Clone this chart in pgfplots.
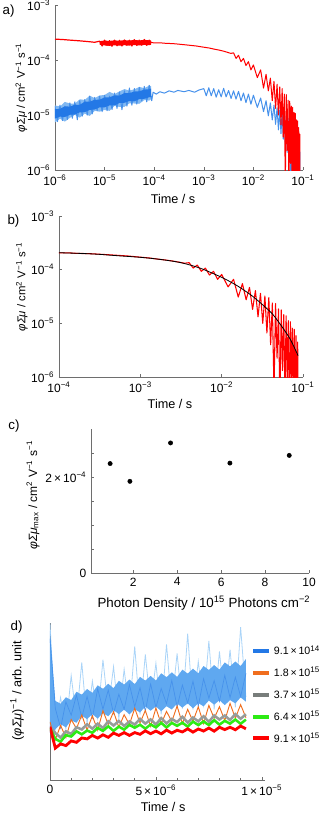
\documentclass[border=0pt]{standalone}
\usepackage{fontspec}
\setmainfont{Liberation Sans}
\usepackage{pgfplots}
\usepackage{pgfplotstable}
\pgfplotsset{compat=1.18}
\pgfplotsset{/pgf/number format/assume math mode=true}

\definecolor{myblue}{RGB}{35,120,230}
\definecolor{zigblue}{RGB}{70,145,235}
\definecolor{bandblue}{RGB}{130,185,242}
\definecolor{midblue}{RGB}{95,168,240}
\definecolor{lightblue}{RGB}{170,212,248}
\definecolor{myorange}{RGB}{240,110,30}
\definecolor{mygray}{RGB}{150,156,154}
\definecolor{mygreen}{RGB}{45,235,20}
\definecolor{axisgray}{RGB}{110,110,110}

\newcommand\fs{\fontsize{9}{10.8}\selectfont}

% panel a, red, 1e-6 .. 9e-5
\pgfplotstableread{
x y
1e-6 2.40e-4
1.5e-6 2.35e-4
2e-6 2.30e-4
3e-6 2.24e-4
4e-6 2.19e-4
5e-6 2.15e-4
6.3e-6 2.10e-4
7.94e-6 2.20e-4
8.91e-6 1.80e-4
1e-5 2.30e-4
1.12e-5 1.85e-4
1.26e-5 2.25e-4
1.41e-5 1.78e-4
1.58e-5 2.30e-4
1.78e-5 1.82e-4
2e-5 2.28e-4
2.24e-5 1.80e-4
2.51e-5 2.32e-4
2.82e-5 1.85e-4
3.16e-5 2.30e-4
3.55e-5 1.80e-4
3.98e-5 2.35e-4
4.47e-5 1.84e-4
5.01e-5 2.30e-4
5.62e-5 1.86e-4
6.31e-5 2.36e-4
7.08e-5 1.85e-4
7.94e-5 2.30e-4
8.7e-5 2.08e-4
}\redearly

% noise envelope of the red trace (upper edge, then lower edge back)
\pgfplotstableread{
x y
7.94e-6 2.20e-4
1e-5 2.26e-4
1.26e-5 2.22e-4
1.58e-5 2.28e-4
2e-5 2.24e-4
2.51e-5 2.30e-4
3.16e-5 2.26e-4
3.98e-5 2.32e-4
5.01e-5 2.27e-4
6.31e-5 2.33e-4
7.94e-5 2.28e-4
8.7e-5 2.25e-4
8.7e-5 1.90e-4
7.94e-5 1.86e-4
6.31e-5 1.88e-4
5.01e-5 1.84e-4
3.98e-5 1.87e-4
3.16e-5 1.83e-4
2.51e-5 1.86e-4
2e-5 1.82e-4
1.58e-5 1.85e-4
1.26e-5 1.81e-4
1e-5 1.84e-4
7.94e-6 1.90e-4
}\redband

% red decay, from 9e-5 (panels a and b)
\pgfplotstableread{
x y
8.7e-5 2.08e-4
1e-4 2.05e-4
1.3e-4 2.06e-4
1.6e-4 2.02e-4
2e-4 2.00e-4
2.5e-4 1.98e-4
3e-4 1.95e-4
4e-4 1.90e-4
5e-4 1.86e-4
7e-4 1.80e-4
1e-3 1.71e-4
1.3e-3 1.65e-4
1.6e-3 1.58e-4
2e-3 1.52e-4
2.5e-3 1.45e-4
3e-3 1.38e-4
3.5e-3 1.32e-4
3.98e-3 1.35e-4
4.47e-3 1.07e-4
5.01e-3 1.22e-4
5.62e-3 9.33e-5
6.31e-3 1.07e-4
7.08e-3 7.94e-5
7.94e-3 9.33e-5
8.91e-3 6.61e-5
0.010 8.13e-5
0.012 4.79e-5
0.014 6.61e-5
0.016 3.09e-5
0.018 5.50e-5
0.020 2.75e-5
0.022 4.68e-5
0.024 1.82e-5
0.026 4.07e-5
0.028 1.32e-5
0.030 3.63e-5
0.032 1.00e-5
0.034 3.24e-5
0.036 6.61e-6
0.038 3.02e-5
0.040 3.98e-6
0.042 2.40e-5
0.044 5.4e-7
0.046 2.34e-5
0.048 2.24e-6
0.050 1.86e-5
0.052 3.1e-7
0.054 1.78e-5
0.056 1.32e-6
0.058 1.45e-5
0.060 4.5e-7
0.062 1.38e-5
0.064 7.6e-7
0.066 1.12e-5
0.068 2.6e-7
0.070 1.07e-5
0.072 8.7e-7
0.074 8.13e-6
0.076 2.3e-7
0.078 7.76e-6
0.080 3.2e-7
0.082 5.89e-6
0.084 2.2e-7
0.086 4.47e-6
0.087 3.9e-7
}\redlate

% noise envelopes of the blue trace, 1e-6 .. 9e-5 (outer, core)
\pgfplotstableread{
x y
1e-6 1.49e-5
1.26e-6 1.43e-5
1.58e-6 1.73e-5
2e-6 1.62e-5
2.51e-6 1.61e-5
3.16e-6 1.93e-5
3.98e-6 1.88e-5
5.01e-6 2.25e-5
6.31e-6 2.02e-5
7.94e-6 2.27e-5
1e-5 2.31e-5
1.26e-5 2.63e-5
1.58e-5 2.40e-5
2e-5 2.69e-5
2.51e-5 2.96e-5
3.16e-5 2.78e-5
3.98e-5 2.93e-5
5.01e-5 3.25e-5
6.31e-5 3.07e-5
7.94e-5 3.41e-5
8.7e-5 3.34e-5
8.7e-5 1.95e-5
7.94e-5 1.83e-5
6.31e-5 1.87e-5
5.01e-5 1.60e-5
3.98e-5 1.62e-5
3.16e-5 1.63e-5
2.51e-5 1.41e-5
2e-5 1.40e-5
1.58e-5 1.47e-5
1.26e-5 1.19e-5
1e-5 1.24e-5
7.94e-6 1.15e-5
6.31e-6 1.19e-5
5.01e-6 9.62e-6
3.98e-6 1.06e-5
3.16e-6 8.98e-6
2.51e-6 1.01e-5
2e-6 8.88e-6
1.58e-6 7.59e-6
1.26e-6 8.58e-6
1e-6 7.35e-6
}\bandouter

\pgfplotstableread{
x y
1e-6 1.28e-5
1.26e-6 1.29e-5
1.58e-6 1.44e-5
2e-6 1.42e-5
2.51e-6 1.54e-5
3.16e-6 1.53e-5
3.98e-6 1.75e-5
5.01e-6 1.75e-5
6.31e-6 1.89e-5
7.94e-6 1.90e-5
1e-5 2.09e-5
1.26e-5 2.10e-5
1.58e-5 2.27e-5
2e-5 2.26e-5
2.51e-5 2.51e-5
3.16e-5 2.50e-5
3.98e-5 2.67e-5
5.01e-5 2.70e-5
6.31e-5 2.90e-5
7.94e-5 2.94e-5
8.7e-5 3.03e-5
8.7e-5 2.11e-5
7.94e-5 2.11e-5
6.31e-5 1.97e-5
5.01e-5 1.95e-5
3.98e-5 1.77e-5
3.16e-5 1.80e-5
2.51e-5 1.67e-5
2e-5 1.66e-5
1.58e-5 1.49e-5
1.26e-5 1.50e-5
1e-5 1.38e-5
7.94e-6 1.38e-5
6.31e-6 1.26e-5
5.01e-6 1.24e-5
3.98e-6 1.13e-5
3.16e-6 1.12e-5
2.51e-6 1.02e-5
2e-6 1.01e-5
1.58e-6 9.2e-6
1.26e-6 9.35e-6
1e-6 8.61e-6
}\bandcore

% panel a, blue trace
\pgfplotstableread{
x y
1e-6 1.45e-5
1.122e-6 7.59e-6
1.259e-6 1.51e-5
1.413e-6 7.94e-6
1.585e-6 1.45e-5
1.778e-6 8.32e-6
1.995e-6 1.66e-5
2.239e-6 8.71e-6
2.512e-6 1.74e-5
2.818e-6 8.2e-6
3.162e-6 1.82e-5
3.548e-6 9.55e-6
3.981e-6 1.91e-5
4.467e-6 1.00e-5
5.012e-6 2.20e-5
5.623e-6 1.05e-5
6.310e-6 2.09e-5
7.079e-6 1.20e-5
7.943e-6 2.19e-5
8.913e-6 1.15e-5
1e-5 2.29e-5
1.122e-5 1.20e-5
1.259e-5 2.20e-5
1.413e-5 1.26e-5
1.585e-5 2.51e-5
1.778e-5 1.32e-5
1.995e-5 2.63e-5
2.239e-5 1.25e-5
2.512e-5 2.75e-5
2.818e-5 1.45e-5
3.162e-5 3.10e-5
3.548e-5 1.51e-5
3.981e-5 3.02e-5
4.467e-5 1.58e-5
5.012e-5 3.16e-5
5.623e-5 1.80e-5
6.310e-5 3.31e-5
7.079e-5 1.74e-5
7.943e-5 3.47e-5
8.913e-5 1.82e-5
9.5e-5 2.60e-5
1.1e-4 2.40e-5
1.3e-4 2.65e-5
1.6e-4 2.50e-5
2e-4 2.75e-5
2.5e-4 2.60e-5
3e-4 2.80e-5
4e-4 2.65e-5
5e-4 2.80e-5
6.5e-4 2.60e-5
8e-4 2.85e-5
1e-3 3.02e-5
1.122e-3 2.24e-5
1.259e-3 3.13e-5
1.413e-3 2.24e-5
1.585e-3 3.02e-5
1.778e-3 2.11e-5
1.995e-3 2.88e-5
2.239e-3 2.14e-5
2.512e-3 3.05e-5
2.818e-3 2.14e-5
3.162e-3 2.79e-5
3.548e-3 2.00e-5
3.981e-3 2.75e-5
4.467e-3 1.95e-5
5.012e-3 2.69e-5
5.623e-3 1.82e-5
6.310e-3 2.51e-5
7.079e-3 1.68e-5
7.943e-3 2.40e-5
8.913e-3 1.57e-5
0.010 2.29e-5
0.012 1.38e-5
0.014 2.04e-5
0.016 1.15e-5
0.018 1.82e-5
0.020 9.66e-6
0.022 1.66e-5
0.024 8.13e-6
0.026 1.51e-5
0.028 6.76e-6
0.030 1.35e-5
0.032 5.37e-6
0.034 1.23e-5
0.036 4.57e-6
0.038 1.17e-5
0.040 3.63e-6
0.042 1.05e-5
0.044 2.95e-6
0.046 9.77e-6
0.048 2.09e-6
0.050 8.71e-6
0.052 1.48e-6
0.054 8.32e-6
0.056 7.4e-7
0.058 7.24e-6
0.060 8.1e-7
0.062 6.76e-6
0.064 4.4e-7
0.066 5.62e-6
0.068 4.6e-7
0.070 5.01e-6
0.072 2.4e-7
0.074 4.37e-6
0.076 2.4e-7
0.078 3.31e-6
0.080 1.4e-7
0.082 2.51e-6
0.084 1.1e-7
0.086 2.14e-6
0.0865 1e-7
}\bluea

% panel b, fit
\pgfplotstableread{
x y
1e-4 2.07e-4
2e-4 2.00e-4
3.16e-4 1.93e-4
5e-4 1.83e-4
1e-3 1.70e-4
1.78e-3 1.55e-4
3.16e-3 1.35e-4
5.5e-3 1.06e-4
1e-2 7.2e-5
1.4e-2 5.5e-5
1.74e-2 4.5e-5
2.4e-2 3.2e-5
3.1e-2 2.3e-5
4.2e-2 1.5e-5
5.5e-2 8.7e-6
7e-2 5.0e-6
8.7e-2 2.5e-6
}\fitb

% panel d, time / s and the traces (arb. unit)
\pgfplotstableread{
t lb bl or gy gn rd
0 1.000 0.900 0.370 0.340 0.330 0.340
2.5e-7 0.328 0.457 0.256 0.300 0.262 0.203
5e-7 0.525 0.331 0.348 0.270 0.244 0.230
7.5e-7 0.327 0.498 0.270 0.310 0.286 0.219
1e-6 0.665 0.413 0.385 0.293 0.277 0.249
1.25e-6 0.388 0.541 0.328 0.336 0.310 0.240
1.5e-6 0.749 0.397 0.414 0.322 0.291 0.268
1.75e-6 0.358 0.532 0.319 0.355 0.315 0.262
2e-6 0.630 0.395 0.409 0.327 0.301 0.284
2.25e-6 0.395 0.581 0.317 0.359 0.332 0.267
2.5e-6 0.766 0.451 0.441 0.331 0.313 0.288
2.75e-6 0.453 0.573 0.354 0.374 0.342 0.272
3e-6 0.722 0.424 0.435 0.347 0.313 0.299
3.25e-6 0.390 0.546 0.336 0.376 0.340 0.284
3.5e-6 0.705 0.450 0.416 0.344 0.321 0.302
3.75e-6 0.434 0.608 0.353 0.373 0.351 0.284
4e-6 0.851 0.467 0.457 0.353 0.333 0.302
4.25e-6 0.417 0.588 0.363 0.389 0.352 0.291
4.5e-6 0.800 0.438 0.443 0.359 0.327 0.313
4.75e-6 0.471 0.612 0.342 0.386 0.354 0.295
5e-6 0.744 0.462 0.458 0.354 0.335 0.312
5.25e-6 0.418 0.583 0.358 0.394 0.364 0.294
5.5e-6 0.864 0.486 0.437 0.361 0.335 0.318
5.75e-6 0.472 0.634 0.373 0.389 0.364 0.299
6e-6 0.806 0.466 0.471 0.369 0.345 0.317
6.25e-6 0.455 0.605 0.359 0.403 0.365 0.306
6.5e-6 0.933 0.490 0.450 0.366 0.340 0.326
6.75e-6 0.449 0.629 0.374 0.398 0.372 0.305
7e-6 0.755 0.470 0.466 0.374 0.350 0.325
7.25e-6 0.480 0.645 0.360 0.406 0.373 0.312
7.5e-6 0.886 0.521 0.475 0.371 0.350 0.331
7.75e-6 0.450 0.633 0.393 0.411 0.381 0.311
8e-6 0.819 0.501 0.467 0.385 0.353 0.336
8.25e-6 0.481 0.667 0.379 0.411 0.377 0.321
8.5e-6 0.831 0.525 0.488 0.382 0.359 0.336
8.75e-6 0.463 0.655 0.394 0.420 0.385 0.320
9e-6 0.973 0.532 0.480 0.390 0.358 0.344
9.25e-6 0.529 0.679 0.397 0.419 0.385 0.326
}\traced

% envelope of the blue trace in d (upper edge, then lower edge back)
\pgfplotstableread{
t y
0 0.950
2.5e-7 0.504
5e-7 0.486
7.5e-7 0.527
1e-6 0.509
1.25e-6 0.562
1.5e-6 0.544
1.75e-6 0.580
2e-6 0.555
2.25e-6 0.603
2.5e-6 0.581
2.75e-6 0.613
3e-6 0.585
3.25e-6 0.632
3.5e-6 0.608
3.75e-6 0.640
4e-6 0.611
4.25e-6 0.657
4.5e-6 0.633
4.75e-6 0.663
5e-6 0.634
5.25e-6 0.680
5.5e-6 0.655
5.75e-6 0.686
6e-6 0.657
6.25e-6 0.703
6.5e-6 0.678
6.75e-6 0.709
7e-6 0.680
7.25e-6 0.726
7.5e-6 0.701
7.75e-6 0.732
8e-6 0.703
8.25e-6 0.749
8.5e-6 0.724
8.75e-6 0.755
9e-6 0.726
9.25e-6 0.771
9.25e-6 0.499
9e-6 0.526
8.75e-6 0.488
8.5e-6 0.509
8.25e-6 0.477
8e-6 0.508
7.75e-6 0.480
7.5e-6 0.506
7.25e-6 0.469
7e-6 0.490
6.75e-6 0.457
6.5e-6 0.488
6.25e-6 0.461
6e-6 0.487
5.75e-6 0.449
5.5e-6 0.470
5.25e-6 0.438
5e-6 0.469
4.75e-6 0.441
4.5e-6 0.468
4.25e-6 0.430
4e-6 0.451
3.75e-6 0.418
3.5e-6 0.448
3.25e-6 0.420
3e-6 0.445
2.75e-6 0.406
2.5e-6 0.426
2.25e-6 0.391
2e-6 0.420
1.75e-6 0.388
1.5e-6 0.409
1.25e-6 0.365
1e-6 0.379
7.5e-7 0.335
5e-7 0.356
2.5e-7 0.322
0 0.300
}\bandd

\pgfplotsset{
  panel/.style={
    scale only axis,
    axis lines=left,
    axis line style={-, draw=axisgray},
    tick style={axisgray, line width=0.4pt},
    tick align=inside,
    major tick length=2.5pt,
    minor tick length=1.5pt,
    tick label style={font=\fs, text=black},
    label style={font=\fs},
  },
}

\begin{document}
\begin{tikzpicture}
\useasboundingbox (0,0) rectangle (242.25pt,-611.25pt);

% a) transients
\begin{axis}[panel,
  xmode=log, ymode=log,
  at={(41.25pt,-127.5pt)}, anchor=south west,
  width=186pt, height=123.75pt,
  xmin=1e-6, xmax=1e-1, ymin=1e-6, ymax=1e-3,
  xminorticks=false, yminorticks=false,
  xtick={1e-6,1e-5,1e-4,1e-3,1e-2,1e-1},
  xticklabels={10\textsuperscript{−6},10\textsuperscript{−5},10\textsuperscript{−4},10\textsuperscript{−3},10\textsuperscript{−2},10\textsuperscript{−1}},
  ytick={1e-6,1e-5,1e-4,1e-3},
  yticklabels={10\textsuperscript{−6},10\textsuperscript{−5},10\textsuperscript{−4},10\textsuperscript{−3}},
  xlabel={Time / s},
  ylabel={\textit{φΣμ} / cm\textsuperscript{2} V\textsuperscript{−1} s\textsuperscript{−1}},
  xlabel style={at={(axis description cs:0.476,-0.176)}, anchor=center, font=\fontsize{9.5}{11}\selectfont},
  ylabel style={at={(axis description cs:-0.135,0.5)}, anchor=center, font=\fontsize{8.5}{10}\selectfont},
]
\addplot[fill=bandblue, draw=none, forget plot] table {\bandouter};
\addplot[zigblue, line width=0.75pt, line join=round] table {\bluea};
\addplot[fill=myblue, draw=none, forget plot] table {\bandcore};
\addplot[fill=red, draw=none, forget plot] table {\redband};
\addplot[red, line width=0.9pt, line join=round] table {\redearly};
\addplot[red, line width=0.75pt, line join=round] table {\redlate};
\end{axis}

% b) fit
\begin{axis}[panel,
  xmode=log, ymode=log,
  at={(44.25pt,-282.75pt)}, anchor=south west,
  width=183pt, height=120.75pt,
  xmin=1e-4, xmax=1e-1, ymin=1e-6, ymax=1e-3,
  xminorticks=false, yminorticks=false,
  xtick={1e-4,1e-3,1e-2,1e-1},
  xticklabels={10\textsuperscript{−4},10\textsuperscript{−3},10\textsuperscript{−2},10\textsuperscript{−1}},
  ytick={1e-6,1e-5,1e-4,1e-3},
  yticklabels={10\textsuperscript{−6},10\textsuperscript{−5},10\textsuperscript{−4},10\textsuperscript{−3}},
  xlabel={Time / s},
  ylabel={\textit{φΣμ} / cm\textsuperscript{2} V\textsuperscript{−1} s\textsuperscript{−1}},
  xlabel style={at={(axis description cs:0.455,-0.168)}, anchor=center, font=\fontsize{9.5}{11}\selectfont},
  ylabel style={at={(axis description cs:-0.152,0.56)}, anchor=center, font=\fontsize{8.5}{10}\selectfont},
]
\addplot[red, line width=0.8pt, line join=round] table {\redlate};
\addplot[black, line width=0.6pt, smooth] table {\fitb};
\end{axis}

% c) maximum
\begin{axis}[panel,
  at={(68.25pt,-429.75pt)}, anchor=south west,
  width=163.5pt, height=108pt,
  xmin=0.08, xmax=10, ymin=0, ymax=3e-4,
  xtick={2,4,6,8,10},
  ytick={0,0.5e-4,1e-4,1.5e-4,2e-4,2.5e-4},
  yticklabels={0,,,,2\,×\,10\textsuperscript{−4},},
  scaled y ticks=false,
  xlabel={Photon Density / 10\textsuperscript{15} Photons cm\textsuperscript{−2}},
  ylabel={\textit{φΣμ}\textsubscript{max} / cm\textsuperscript{2} V\textsuperscript{−1} s\textsuperscript{−1}},
  xlabel style={at={(axis description cs:0.518,-0.208)}, anchor=center, font=\fontsize{10}{12}\selectfont},
  ylabel style={at={(axis description cs:-0.266,0.54)}, anchor=center},
]
\addplot[only marks, mark=*, mark size=1.6pt, black] coordinates {
(0.95,2.28e-4) (1.85,1.91e-4) (3.7,2.71e-4) (6.4,2.29e-4) (9.1,2.45e-4)};
\end{axis}

% d) inverse
\begin{axis}[panel,
  at={(37.5pt,-585pt)}, anchor=south west,
  width=161.25pt, height=117.75pt,
  xmin=0, xmax=1.015e-5, ymin=0, ymax=1,
  xtick={0,5e-6,1e-5},
  xticklabels={0,5\,×\,10\textsuperscript{−6},1\,×\,10\textsuperscript{−5}},
  minor xtick={1e-6,2e-6,3e-6,4e-6,6e-6,7e-6,8e-6,9e-6},
  scaled x ticks=false,
  ytick=\empty,
  xlabel={Time / s},
  ylabel={(\textit{φΣμ})\textsuperscript{−1} / arb. unit},
  xlabel style={at={(axis description cs:0.526,-0.172)}, anchor=center, font=\fontsize{9.5}{11}\selectfont},
  ylabel style={at={(axis description cs:-0.153,0.57)}, anchor=center, font=\fontsize{9.5}{11}\selectfont},
  legend style={at={(axis description cs:0.935,0.875)}, anchor=north west,
    draw=none, fill=none, font=\fontsize{8}{9.6}\selectfont, row sep=3.9pt,
    inner xsep=0pt, inner ysep=0pt},
  legend cell align=left,
  legend image code/.code={\draw[#1] (0pt,0pt) -- (12pt,0pt);},
]
\addplot[lightblue, line width=0.6pt, forget plot] table[x=t, y=lb] {\traced};
\addplot[fill=midblue, draw=none, forget plot] table[x=t, y=y] {\bandd};
\addplot[zigblue, line width=0.5pt, forget plot] table[x=t, y=bl] {\traced};
\addplot[myorange, line width=0.7pt, forget plot] table[x=t, y=or] {\traced};
\addplot[mygray, line width=1.9pt, forget plot] table[x=t, y=gy] {\traced};
\addplot[mygreen, line width=1.9pt, forget plot] table[x=t, y=gn] {\traced};
\addplot[red, line width=2.1pt, forget plot] table[x=t, y=rd] {\traced};
\addlegendimage{myblue, line width=3pt}
\addlegendentry{9.1\,×\,10\textsuperscript{14}}
\addlegendimage{myorange, line width=3pt}
\addlegendentry{1.8\,×\,10\textsuperscript{15}}
\addlegendimage{mygray!80!black, line width=3pt}
\addlegendentry{3.7\,×\,10\textsuperscript{15}}
\addlegendimage{mygreen, line width=3pt}
\addlegendentry{6.4\,×\,10\textsuperscript{15}}
\addlegendimage{red, line width=3pt}
\addlegendentry{9.1\,×\,10\textsuperscript{15}}
\end{axis}

\node[font=\fontsize{10}{12}\selectfont] at (6.4pt,-8.3pt) {a)};
\node[font=\fontsize{10}{12}\selectfont] at (10.1pt,-165.75pt) {b)};
\node[font=\fontsize{10}{12}\selectfont] at (10.5pt,-319.5pt) {c)};
\node[font=\fontsize{10}{12}\selectfont] at (12.4pt,-470.25pt) {d)};
\end{tikzpicture}
\end{document}
